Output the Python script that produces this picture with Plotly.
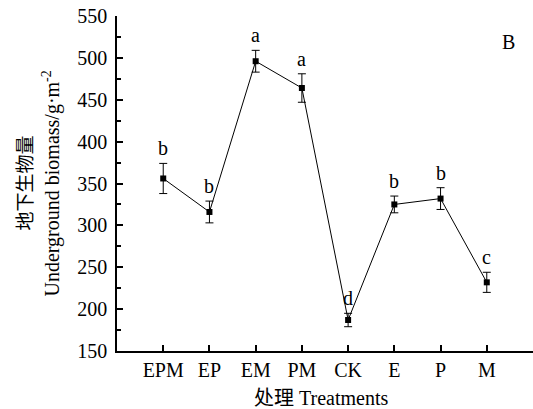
import plotly.graph_objects as go

treatments = ["EPM", "EP", "EM", "PM", "CK", "E", "P", "M"]
biomass = [356, 316, 496, 464, 187, 325, 332, 232]
errors = [18, 13, 13, 17, 8, 10, 13, 12]
letters = ["b", "b", "a", "a", "d", "b", "b", "c"]

FONT = "Liberation Serif, Times New Roman, Noto Sans CJK SC, serif"
xs = list(range(len(treatments)))

fig = go.Figure()
fig.add_trace(go.Scatter(
    x=xs, y=biomass, mode="lines+markers",
    line=dict(color="black", width=1),
    marker=dict(symbol="square", size=6, color="black"),
    error_y=dict(type="data", array=errors, visible=True, color="black",
                 thickness=1, width=4),
    showlegend=False, hoverinfo="skip",
))

for x, y, e, t in zip(xs, biomass, errors, letters):
    fig.add_annotation(x=x, y=y + e, text=t, showarrow=False, yanchor="bottom",
                       yshift=2, font=dict(family=FONT, size=20, color="black"))

fig.add_annotation(xref="paper", yref="paper", x=0.9615, y=0.961, text="B",
                   showarrow=False, font=dict(family=FONT, size=20, color="black"))

# axis titles
fig.add_annotation(xref="paper", yref="paper", x=0.49, y=0, yshift=-47,
                   text="处理 Treatments", showarrow=False, yanchor="middle",
                   font=dict(family=FONT, size=20, color="black"))
fig.add_annotation(xref="paper", yref="paper", x=0, xshift=-92, y=0.5,
                   text="地下生物量", showarrow=False, textangle=-90,
                   xanchor="center", font=dict(family=FONT, size=19, color="black"))
fig.add_annotation(xref="paper", yref="paper", x=0, xshift=-66, y=0.5,
                   text="Underground biomass/g·m<sup>-2</sup>", showarrow=False,
                   textangle=-90, xanchor="center",
                   font=dict(family=FONT, size=20, color="black"))

fig.update_layout(
    width=533, height=409,
    margin=dict(l=117, r=0, t=16, b=58),
    plot_bgcolor="white", paper_bgcolor="white",
    font=dict(family=FONT, size=20, color="black"),
    xaxis=dict(
        range=[-1, 8], tickmode="array", tickvals=xs, ticktext=treatments,
        showline=True, linecolor="black", linewidth=1.5, ticks="inside",
        ticklen=6, tickwidth=1.5, tickcolor="black", showgrid=False, zeroline=False,
        tickfont=dict(family=FONT, size=20), automargin=False,
    ),
    yaxis=dict(
        range=[150, 550], tickmode="linear", tick0=150, dtick=50,
        showline=True, linecolor="black", linewidth=1.5, ticks="inside",
        ticklen=6, tickwidth=1.5, tickcolor="black", showgrid=False, zeroline=False,
        minor=dict(ticks="inside", ticklen=4, tickwidth=1.5, tickcolor="black",
                   dtick=25, tick0=150),
        tickfont=dict(family=FONT, size=20), automargin=False,
        ticklabelstandoff=4,
    ),
)

fig.write_html("out.html", config={"displayModeBar": False},
               post_script="document.body.style.margin='0';")
